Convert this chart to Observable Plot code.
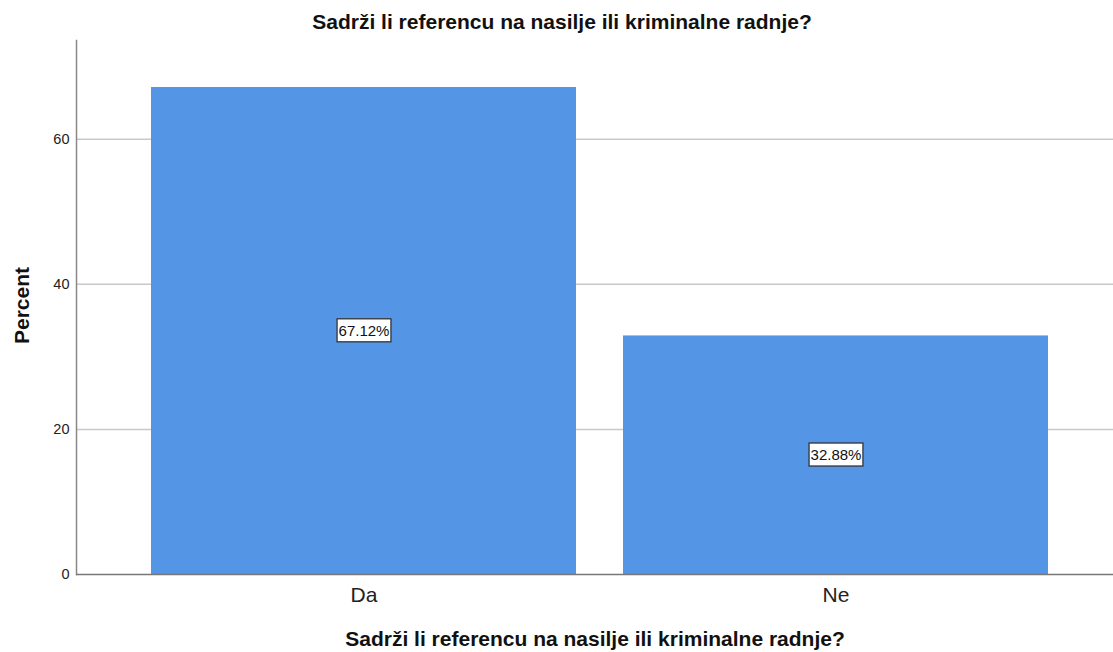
<!DOCTYPE html>
<html>
<head>
<meta charset="utf-8">
<script src="https://cdn.jsdelivr.net/npm/d3@7"></script>
<script src="https://cdn.jsdelivr.net/npm/@observablehq/plot@0.6"></script>
<style>
  html, body { margin: 0; padding: 0; background: #fff; }
  #chart svg { display: block; }
</style>
</head>
<body>
<div id="chart"></div>
<script>
const categories = ["Da", "Ne"];
const percents = [67.12, 32.88];
const yTicks = [0, 20, 40, 60];
const titleText = "Sadrži li referencu na nasilje ili kriminalne radnje?";
const xLabel = "Sadrži li referencu na nasilje ili kriminalne radnje?";
const yLabel = "Percent";

const data = categories.map((c, i) => ({category: c, percent: percents[i], label: percents[i].toFixed(2) + "%"}));

const font = "Liberation Sans, Arial, sans-serif";

const chart = Plot.plot({
  width: 1113,
  height: 652,
  marginTop: 40,
  marginBottom: 78,
  marginLeft: 76,
  marginRight: 0,
  style: {fontFamily: font, background: "#fff", color: "#222"},
  x: {domain: categories, paddingInner: 0.1, paddingOuter: 0.148, align: 0.536},
  y: {domain: [0, 73.6]},
  marks: [
    Plot.gridY(yTicks.filter(d => d > 0), {stroke: "#c8c8c8", strokeOpacity: 1, strokeWidth: 1.5}),
    Plot.barY(data, {x: "category", y: "percent", fill: "#5595e5"}),
    Plot.axisY(yTicks, {tickSize: 0, tickPadding: 7, fontSize: 14.5, label: null, fill: "#222"}),
    Plot.axisX({tickSize: 0, tickPadding: 13, fontSize: 21, label: null, fill: "#222"}),
    Plot.frame({anchor: "left", stroke: "#888", strokeWidth: 1.5}),
    Plot.ruleY([0], {stroke: "#777", strokeWidth: 1.5}),
    Plot.text(data, {x: "category", y: d => d.percent / 2, text: "label", fontSize: 15, fill: "#111", className: "vlabel"}),
    Plot.text([titleText], {frameAnchor: "top", dx: -33, dy: -26, fontSize: 21, fontWeight: "bold", fill: "#111"}),
    Plot.text([xLabel], {frameAnchor: "bottom", dy: 71, fontSize: 21, fontWeight: "bold", fill: "#111"}),
    Plot.text([yLabel], {frameAnchor: "left", textAnchor: "middle", dx: -54, dy: -2, rotate: -90, fontSize: 21, fontWeight: "bold", fill: "#111"})
  ]
});

document.getElementById("chart").appendChild(chart);

// add white boxes with dark border behind value labels
d3.select(chart).selectAll("g.vlabel text").each(function() {
  const bb = this.getBBox();
  const padX = 1.5, padY = 3;
  d3.select(this.parentNode).insert("rect", () => this)
    .attr("x", bb.x - padX)
    .attr("y", bb.y - padY)
    .attr("width", bb.width + 2 * padX)
    .attr("height", bb.height + 2 * padY)
    .attr("fill", "#fff")
    .attr("stroke", "#333")
    .attr("stroke-width", 1.3)
    .attr("transform", this.getAttribute("transform"));
});
</script>
</body>
</html>
